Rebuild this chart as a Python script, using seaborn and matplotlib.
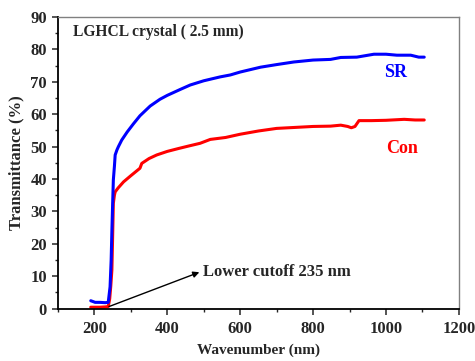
import matplotlib
matplotlib.use("Agg")
import matplotlib.pyplot as plt
import seaborn as sns
import pandas as pd
from matplotlib.ticker import MultipleLocator

# SR curve
sr_x = [190, 195, 202, 215, 230, 238, 243, 246, 248, 250, 252, 255, 257, 262, 266, 275, 290, 307,
        325, 353, 380, 400, 435, 463, 500, 545, 573, 600, 656, 700, 747, 800, 848, 876, 920, 967,
        1000, 1030, 1068, 1090, 1105]
sr_y = [2.4, 2.2, 1.9, 1.9, 1.8, 1.9, 6.7, 15, 24, 32, 39.7, 44, 47.4, 49, 50, 52, 54.5, 57,
        59.5, 62.5, 64.6, 65.8, 67.6, 69, 70.3, 71.5, 72.1, 73, 74.5, 75.3, 76.1, 76.7, 76.9, 77.5, 77.6, 78.5,
        78.5, 78.2, 78.2, 77.6, 77.6]

# Con curve
con_x = [190, 200, 215, 230, 238, 242, 245, 248, 250, 252, 255, 257, 265, 280, 300, 325, 328, 330,
         350, 371, 400, 431, 460, 490, 518, 560, 600, 650, 700, 750, 800, 848, 876, 895, 905, 915,
         926, 960, 1000, 1050, 1080, 1105]
con_y = [0.4, 0.4, 0.4, 0.5, 0.6, 3, 7, 11.9, 22, 32.5, 35, 36, 37.2, 39.1, 41, 43.3, 44.2, 44.8,
         46.3, 47.4, 48.5, 49.4, 50.2, 51, 52.2, 52.8, 53.8, 54.8, 55.6, 55.9, 56.2, 56.3, 56.6, 56.2, 55.8, 56.2,
         58, 58, 58.1, 58.4, 58.2, 58.2]

x_ticks = [200, 400, 600, 800, 1000, 1200]
y_ticks = [0, 10, 20, 30, 40, 50, 60, 70, 80, 90]

sns.set_theme(style="ticks")
plt.rcParams['font.family'] = ['Liberation Serif', 'DejaVu Serif']
plt.rcParams['font.weight'] = 'bold'

fig = plt.figure(figsize=(4.75, 3.61), dpi=100)
ax = fig.add_axes([0.122, 0.1454, 0.844, 0.8076])

df_sr = pd.DataFrame({"x": sr_x, "y": sr_y})
df_con = pd.DataFrame({"x": con_x, "y": con_y})
sns.lineplot(data=df_con, x="x", y="y", ax=ax, color="#ff0000", lw=2.2, sort=False)
sns.lineplot(data=df_sr, x="x", y="y", ax=ax, color="#0000ff", lw=2.2, sort=False)

ax.set_xlim(100, 1200)
ax.set_ylim(0, 90)
ax.set_xticks(x_ticks)
ax.set_yticks(y_ticks)
ax.xaxis.set_minor_locator(MultipleLocator(100))
ax.yaxis.set_minor_locator(MultipleLocator(5))
ax.tick_params(axis='both', which='major', direction='out', length=4, width=1.1, labelsize=12,
               top=False, right=False)
ax.tick_params(axis='x', which='major', pad=5)
ax.tick_params(axis='y', which='major', pad=4)
ax.tick_params(axis='both', which='minor', direction='out', length=2.5, width=1, top=False, right=False)
for lab in ax.get_xticklabels() + ax.get_yticklabels():
    lab.set_fontweight('bold')

for s in ['left', 'bottom']:
    ax.spines[s].set_color('black')
    ax.spines[s].set_linewidth(1.3)
for s in ['top', 'right']:
    ax.spines[s].set_color('#808080')
    ax.spines[s].set_linewidth(1.0)

ax.set_xlabel("Wavenumber (nm)", fontsize=11, fontweight='bold', labelpad=5)
ax.set_ylabel("Transmittance (%)", fontsize=12, fontweight='bold', labelpad=4)

ax.text(140, 85.5, "LGHCL crystal ( 2.5 mm)", fontsize=11.2, fontweight='bold', va='center', ha='left')
ax.text(1025, 73, "SR", fontsize=13, fontweight='bold', color='#0000ff', va='center', ha='center')
ax.text(1043, 49.5, "Con", fontsize=13, fontweight='bold', color='#ff0000', va='center', ha='center')

ax.annotate("", xy=(488, 11.2), xytext=(240, 0.6),
            arrowprops=dict(arrowstyle='-|>', color='black', lw=1.0, mutation_scale=9, shrinkA=0, shrinkB=0))
ax.text(499, 11.2, "Lower cutoff 235 nm", fontsize=12, fontweight='bold', va='center', ha='left')

fig.savefig("out.png", dpi=100)
